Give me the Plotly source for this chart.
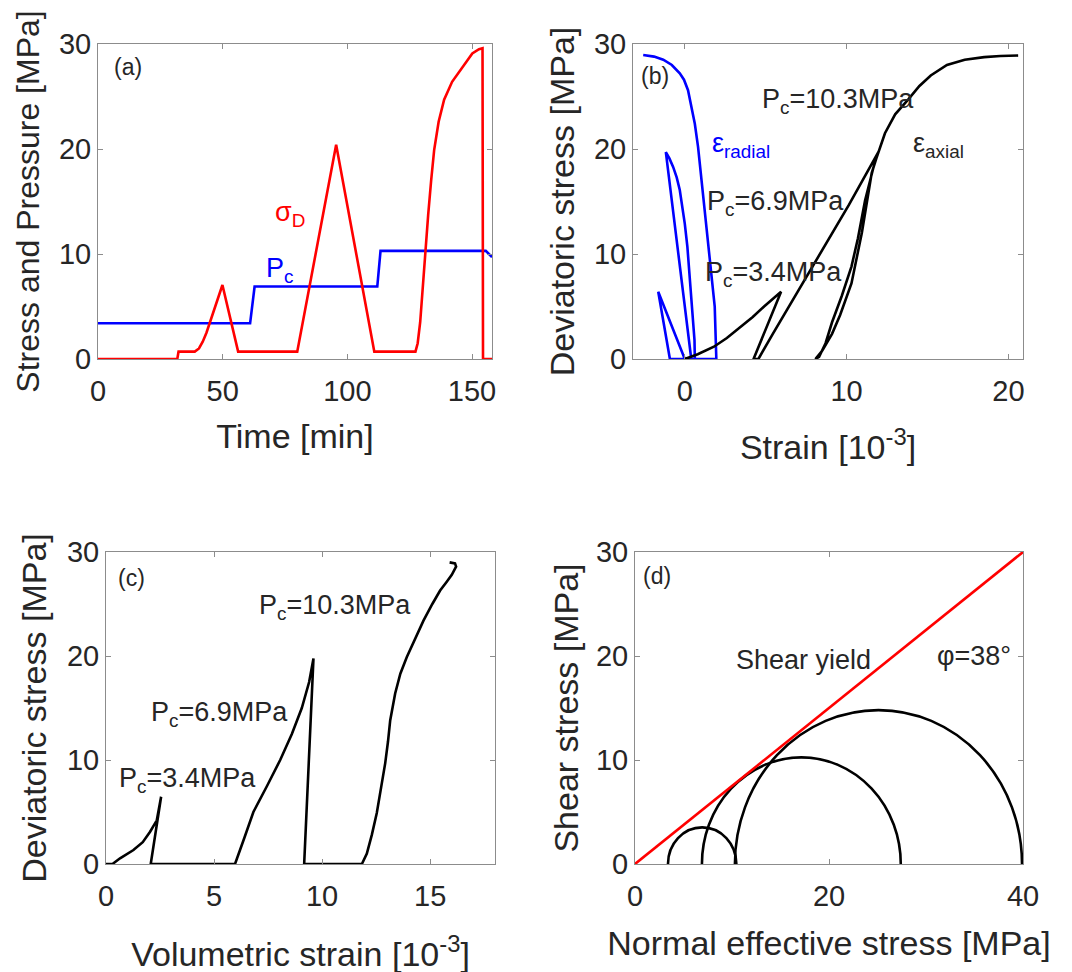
import plotly.graph_objects as go

# ---------------- data ----------------
# (a) time histories
time_pc = [0, 61, 62.8, 112, 113.3, 155.5, 158]
pc_vals = [3.4, 3.4, 6.9, 6.9, 10.3, 10.3, 9.7]

time_sd = [0, 31.8, 32.3, 38.8, 40.5, 42, 43.5, 45, 46.5, 48, 49.9, 56.2, 79.9, 95.5, 110.8,
           127.3, 128.2, 129.2, 130.2, 131.2, 132.4, 133.6, 134.8, 136.6, 138.8, 142, 146.1,
           150.1, 152.8, 154.2, 154.4, 158]
sd_vals = [0, 0, 0.7, 0.7, 1.0, 1.65, 2.5, 3.55, 4.6, 5.6, 7.05, 0.7, 0.7, 20.4, 0.7,
           0.7, 1.5, 3.5, 6.8, 10.2, 13.7, 17.0, 19.9, 22.6, 24.7, 26.4, 27.8,
           29.1, 29.5, 29.6, 0, 0]

# (b) stress-strain
rad_strain = [0.0, -1.64, -0.92, 0.62, 0.6, 0.45, 0.31, 0.16, 0.0, -0.15, -0.31, -0.5, -0.72,
              -0.95, -1.17, 0.4, 1.95, 1.85, 1.64, 1.44, 1.24, 1.03, 0.82, 0.62, 0.4, 0.2,
              -0.05, -0.31, -0.8, -1.33, -1.9, -2.57]
rad_stress = [0.0, 6.4, 0.0, 0.0, 1.8, 5.0, 8.2, 10.7, 12.9, 14.7, 16.1, 17.3, 18.3,
              19.1, 19.7, 0.0, 0.0, 5.0, 8.2, 11.3, 14.5, 17.7, 20.2, 22.4, 24.2, 25.6,
              26.6, 27.2, 28.0, 28.5, 28.8, 28.95]

ax_strain = [0.0, 0.8, 1.8, 2.6, 3.4, 4.2, 4.9, 5.5, 5.95, 4.25, 4.55, 5.44, 7.5, 10.15, 11.96,
             11.55, 10.94, 10.3, 9.6, 9.1, 8.5, 8.07, 8.3, 8.7, 9.1, 9.7, 10.3, 10.7, 11.14,
             11.7, 12.37, 13.0, 13.8, 14.5, 15.2, 16.2, 17.3, 18.5, 19.5, 20.6]
ax_stress = [0.0, 0.45, 1.17, 2.0, 3.0, 4.0, 5.0, 5.8, 6.4, 0.0, 0.0, 2.4, 7.8, 14.7, 19.7,
             17.7, 12.0, 7.2, 4.2, 2.4, 0.8, 0.0, 0.2, 1.5, 3.5, 6.0, 8.8, 11.5, 15.1,
             18.5, 21.5, 23.3, 24.7, 26.0, 27.0, 28.0, 28.5, 28.75, 28.85, 28.9]

# (c) volumetric strain
vol_strain = [0.0, 0.3, 0.65, 1.27, 1.7, 2.04, 2.35, 2.45, 2.55, 2.07,
              5.97, 6.4, 6.82, 7.45, 8.06, 8.6, 9.06, 9.4, 9.6, 9.17,
              11.84, 12.07, 12.3, 12.53, 12.73, 12.92, 13.05, 13.15, 13.38, 13.62, 13.92,
              14.3, 14.69, 15.1, 15.46, 15.75, 16.0, 16.2, 16.15, 15.9]
vol_stress = [0.0, 0.0, 0.55, 1.34, 2.1, 3.1, 4.2, 5.3, 6.47, 0.0,
              0.0, 2.5, 5.0, 7.5, 10.0, 12.5, 15.0, 17.5, 19.76, 0.0,
              0.0, 1.0, 2.8, 4.9, 7.3, 9.7, 11.8, 13.8, 16.4, 18.3, 19.9,
              21.7, 23.4, 25.0, 26.3, 27.1, 27.8, 28.6, 28.9, 29.0]

# (d) Mohr circles and shear-yield line
sigma3 = [3.4, 6.9, 10.3]
sigma1 = [10.45, 27.4, 39.9]
yield_x = [0, 40]
yield_y = [0, 30]

# ---------------- style ----------------
FONT = "Liberation Sans, Arial, sans-serif"
TXT = "#262626"
W, H = 1072, 972
OFF = 8  # page body margin
LW = 2.6

fig = go.Figure()

fig.add_trace(go.Scatter(x=time_pc, y=pc_vals, mode="lines", line=dict(color="#0000ff", width=LW),
                         xaxis="x", yaxis="y", showlegend=False))
fig.add_trace(go.Scatter(x=time_sd, y=sd_vals, mode="lines", line=dict(color="#ff0000", width=LW),
                         xaxis="x", yaxis="y", showlegend=False))

fig.add_trace(go.Scatter(x=rad_strain, y=rad_stress, mode="lines", line=dict(color="#0000ff", width=LW),
                         xaxis="x2", yaxis="y2", showlegend=False))
fig.add_trace(go.Scatter(x=ax_strain, y=ax_stress, mode="lines", line=dict(color="#000000", width=LW),
                         xaxis="x2", yaxis="y2", showlegend=False))

fig.add_trace(go.Scatter(x=vol_strain, y=vol_stress, mode="lines", line=dict(color="#000000", width=LW),
                         xaxis="x3", yaxis="y3", showlegend=False))

fig.add_trace(go.Scatter(x=yield_x, y=yield_y, mode="lines", line=dict(color="#ff0000", width=LW),
                         xaxis="x4", yaxis="y4", showlegend=False))

shapes = []
for s3, s1 in zip(sigma3, sigma1):
    r = (s1 - s3) / 2
    shapes.append(dict(type="circle", xref="x4", yref="y4", x0=s3, x1=s1, y0=-r, y1=r,
                       line=dict(color="#000000", width=LW), layer="below"))


def pdx(px):
    return (px - OFF) / W


def pdy(py):
    return 1 - (py - OFF) / H


def axis_common(title, rng, dtick, standoff, is_x, tsize=34):
    d = dict(range=rng, dtick=dtick, showgrid=False, zeroline=False, automargin=False,
             showline=True, linecolor="#8c8c8c", linewidth=1, mirror="ticks",
             ticks="inside", ticklen=5, tickcolor="#8c8c8c", tickwidth=1,
             tickfont=dict(family=FONT, size=29, color=TXT),
             title=dict(text=title, font=dict(family=FONT, size=tsize, color=TXT), standoff=standoff))
    if is_x:
        d["ticklabelstandoff"] = 6
    return d


layout = dict(
    template="none",
    width=W, height=H, margin=dict(l=0, r=0, t=0, b=0, autoexpand=False),
    paper_bgcolor="white", plot_bgcolor="white", showlegend=False,
    shapes=shapes,
)

layout["xaxis"] = axis_common("Time [min]", [0, 158], 50, 18, True)
layout["xaxis"]["domain"] = [pdx(98), pdx(492)]
layout["xaxis"]["anchor"] = "y"
layout["yaxis"] = axis_common("Stress and Pressure [MPa]", [0, 30], 10, 9, False, tsize=32)
layout["yaxis"]["domain"] = [pdy(359), pdy(44)]
layout["yaxis"]["anchor"] = "x"

layout["xaxis2"] = axis_common("Strain [10<sup>-3</sup>]", [-3.2, 20.9], 10, 29, True)
layout["xaxis2"]["domain"] = [pdx(633), pdx(1023)]
layout["xaxis2"]["anchor"] = "y2"
layout["yaxis2"] = axis_common("Deviatoric stress [MPa]", [0, 30], 10, 9, False)
layout["yaxis2"]["domain"] = [pdy(359), pdy(44)]
layout["yaxis2"]["anchor"] = "x2"

layout["xaxis3"] = axis_common("Volumetric strain [10<sup>-3</sup>]", [0, 18], 5, 31, True)
layout["xaxis3"]["domain"] = [pdx(106), pdx(495)]
layout["xaxis3"]["anchor"] = "y3"
layout["yaxis3"] = axis_common("Deviatoric stress [MPa]", [0, 30], 10, 10, False)
layout["yaxis3"]["domain"] = [pdy(864), pdy(552)]
layout["yaxis3"]["anchor"] = "x3"

layout["xaxis4"] = axis_common("Normal effective stress [MPa]", [0, 40], 20, 20, True)
layout["xaxis4"]["domain"] = [pdx(635), pdx(1023)]
layout["xaxis4"]["anchor"] = "y4"
layout["yaxis4"] = axis_common("Shear stress [MPa]", [0, 30], 10, 7, False)
layout["yaxis4"]["domain"] = [pdy(864), pdy(552)]
layout["yaxis4"]["anchor"] = "x4"


def ann(text, x, y, xr, yr, color=TXT, size=27):
    return dict(text=text, x=x, y=y, xref=xr, yref=yr, showarrow=False,
                font=dict(family=FONT, size=size, color=color))


layout["annotations"] = [
    ann("(a)", 12, 27.8, "x", "y", size=23),
    ann("σ<sub>D</sub>", 77, 13.8, "x", "y", color="#ff0000"),
    ann("P<sub>c</sub>", 72.8, 8.5, "x", "y", color="#0000ff"),

    ann("(b)", -1.85, 26.95, "x2", "y2", size=23),
    ann("ε<sub>radial</sub>", 3.5, 20.4, "x2", "y2", color="#0000ff"),
    ann("ε<sub>axial</sub>", 15.7, 20.4, "x2", "y2"),
    ann("P<sub>c</sub>=10.3MPa", 9.45, 24.6, "x2", "y2"),
    ann("P<sub>c</sub>=6.9MPa", 5.6, 14.9, "x2", "y2"),
    ann("P<sub>c</sub>=3.4MPa", 5.5, 8.05, "x2", "y2"),

    ann("(c)", 1.2, 27.5, "x3", "y3", size=23),
    ann("P<sub>c</sub>=10.3MPa", 10.6, 24.7, "x3", "y3"),
    ann("P<sub>c</sub>=6.9MPa", 5.23, 14.46, "x3", "y3"),
    ann("P<sub>c</sub>=3.4MPa", 3.75, 8.07, "x3", "y3"),

    ann("(d)", 2.3, 27.7, "x4", "y4", size=23),
    ann("Shear yield", 17.4, 19.6, "x4", "y4"),
    ann("φ=38°", 34.9, 20.0, "x4", "y4"),
]

fig.update_layout(**layout)
fig.write_html("out.html")
